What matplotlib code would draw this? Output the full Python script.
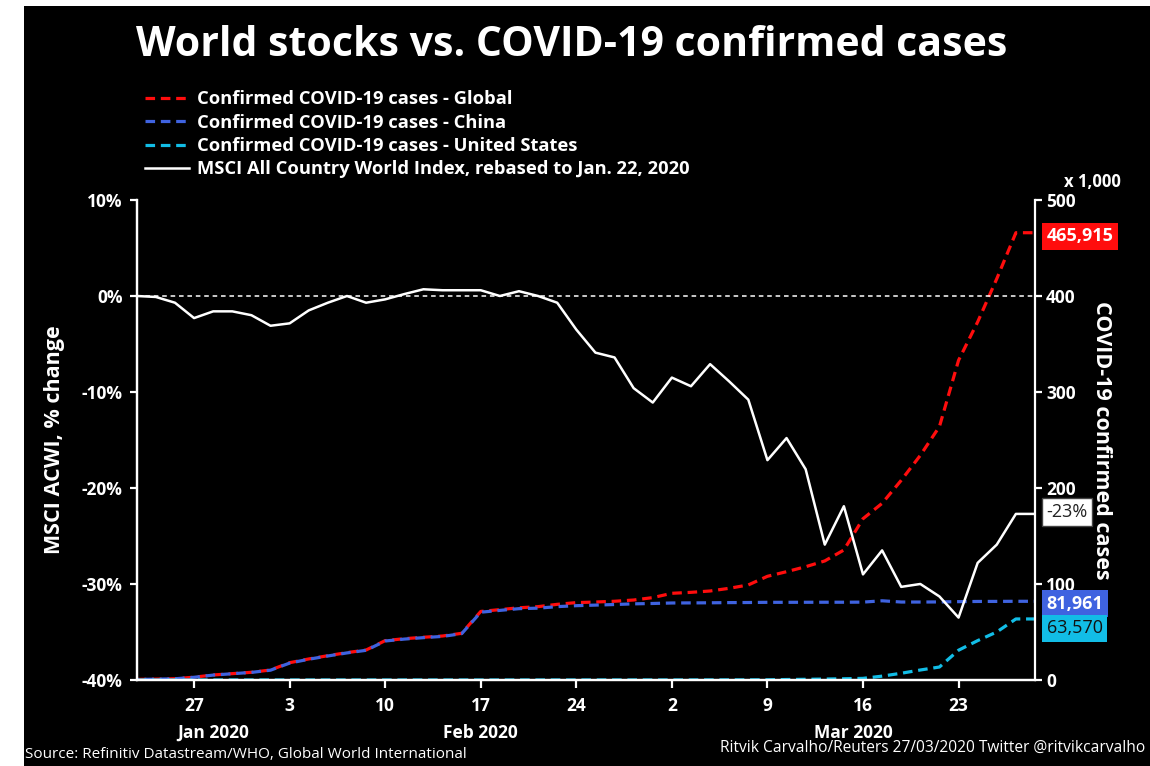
import matplotlib
matplotlib.use("Agg")
import matplotlib.pyplot as plt
import matplotlib.transforms as mtransforms
from matplotlib.lines import Line2D
from matplotlib.patches import Rectangle
import numpy as np
import pandas as pd

plt.rcParams['font.family'] = ['Open Sans', 'DejaVu Sans']

# trading days, Jan 22 - Mar 27 2020
dates = pd.bdate_range("2020-01-22", "2020-03-27")

# MSCI ACWI, % change vs Jan 22
msci = [0, -0.1, -0.7, -2.3, -1.6, -1.6, -2.0, -3.1, -2.85, -1.5, -0.7, 0.0,
        -0.7, -0.35, 0.2, 0.7, 0.6, 0.6, 0.6, 0.0, 0.5, 0.0, -0.7, -3.5,
        -5.9, -6.4, -9.6, -11.1, -8.5, -9.4, -7.1, -8.9, -10.8, -17.1, -14.8, -18.05,
        -25.9, -21.9, -29.0, -26.5, -30.3, -30.0, -31.3, -33.5, -27.8, -25.9, -22.7, -22.7]

# confirmed cases, thousands
cases_global = [0.6, 0.9, 1.3, 2.9, 5.2, 6.6, 8.0, 10.4, 18.0, 21.9, 25.3, 28.5,
                31.2, 41.0, 43.0, 44.5, 45.8, 48.6, 71.4, 73.3, 75.2, 76.4, 78.8, 80.6,
                81.2, 82.0, 83.3, 85.8, 90.3, 91.3, 92.7, 95.5, 99.0, 108.0, 112.8, 118.0,
                124.0, 135.4, 168.0, 184.0, 208.0, 234.0, 264.0, 333.0, 373.0, 418.0, 465.915, 465.915]
cases_china = [0.55, 0.85, 1.25, 2.8, 5.1, 6.5, 7.9, 10.2, 17.6, 21.6, 25.0, 28.2,
               30.9, 40.6, 42.6, 44.1, 45.4, 48.2, 70.6, 72.5, 74.3, 74.8, 76.4, 77.4,
               78.0, 78.6, 79.3, 79.7, 80.2, 80.3, 80.4, 80.6, 80.7, 80.9, 80.9, 80.95,
               81.0, 81.0, 81.1, 82.5, 81.2, 81.2, 81.3, 81.6, 81.8, 81.85, 81.961, 81.961]
cases_us = [0.001, 0.001, 0.002, 0.005, 0.005, 0.005, 0.005, 0.006, 0.011, 0.011, 0.011, 0.012,
            0.012, 0.012, 0.013, 0.013, 0.014, 0.014, 0.015, 0.015, 0.015, 0.035, 0.035, 0.035,
            0.053, 0.057, 0.059, 0.060, 0.062, 0.064, 0.108, 0.129, 0.148, 0.213, 0.472, 0.696,
            0.987, 1.264, 1.678, 4.0, 7.0, 10.4, 13.5, 31.0, 41.0, 50.0, 63.57, 63.57]

RED = '#ff0d0d'
BLUE = '#3f63e0'
CYAN = '#12bde6'

x = np.arange(len(dates))

fig = plt.figure(figsize=(11.5, 7.66), dpi=100)
fig.patch.set_facecolor('white')
fig.patches.append(Rectangle((24 / 1150, 0), 1, 1 - 6 / 766, transform=fig.transFigure,
                             facecolor='black', edgecolor='none', zorder=-10))

ax = fig.add_axes([0.1189, 0.1123, 0.7811, 0.6266])
ax2 = ax.twinx()
ax.set_zorder(ax2.get_zorder() + 1)
ax.patch.set_visible(False)
ax2.patch.set_facecolor('black')

# covid lines on the right axis
ax2.plot(x, cases_global, color=RED, lw=2.3, dashes=(3, 1.8))
ax2.plot(x, cases_china, color=BLUE, lw=2.3, linestyle=(2.4, (3, 1.8)))
ax2.plot(x, cases_us, color=CYAN, lw=2.3, dashes=(3, 1.8))

# MSCI on the left axis
ax.axhline(0, color='white', lw=1.1, linestyle=(0, (3, 2.5)))
ax.plot(x, msci, color='white', lw=1.8)

ax.set_xlim(0, 47)
ax.set_ylim(-40, 10)
ax2.set_ylim(0, 500)

# spines
for a in (ax, ax2):
    for s in a.spines.values():
        s.set_color('white')
        s.set_linewidth(1.6)
    a.spines['top'].set_visible(False)
ax.spines['right'].set_visible(False)

yt = [10, 0, -10, -20, -30, -40]
ax.set_yticks(yt)
ax.set_yticklabels([f"{t}%" for t in yt], fontweight='bold', fontsize=12.5, color='white')
ax.tick_params(axis='y', colors='white', length=5, width=1.6, pad=5)

rt = [0, 100, 200, 300, 400, 500]
ax2.set_yticks(rt)
ax2.set_yticklabels([str(t) for t in rt], fontweight='bold', fontsize=12.5, color='white')
ax2.tick_params(axis='y', colors='white', length=5, width=1.6, pad=3)

mondays = [i for i, d in enumerate(dates) if d.weekday() == 0]
ax.set_xticks(mondays)
ax.set_xticklabels([str(dates[i].day) for i in mondays], fontweight='bold', fontsize=12.5,
                   color='white')
ax.tick_params(axis='x', colors='white', length=6, width=1.6, pad=6)

# month labels under the axis
month_pos = {'Jan 2020': 4.0, 'Feb 2020': 18.0, 'Mar 2020': 37.5}
trans = mtransforms.blended_transform_factory(ax.transData, fig.transFigure)
for lab, xp in month_pos.items():
    fig.text(xp, 1 - 733 / 766, lab, transform=trans, ha='center', va='center',
             color='white', fontweight='bold', fontsize=12.5)

ax.set_ylabel('MSCI ACWI, % change', color='white', fontweight='bold', fontsize=15.5,
              labelpad=12)
ax2.set_ylabel('COVID-19 confirmed cases', color='white', fontweight='bold', fontsize=15.5,
               rotation=270, labelpad=26)
fig.text(1092 / 1150, 1 - 182 / 766, 'x 1,000', color='white', fontweight='bold',
         fontsize=12, ha='center', va='center')

# end-value labels
rtrans = mtransforms.blended_transform_factory(ax2.transAxes, ax2.transData)
ltrans = mtransforms.blended_transform_factory(ax.transAxes, ax.transData)
box = 'square,pad=0.25'
ax2.text(1.013, cases_global[-1] - 3.5, f"{cases_global[-1] * 1000:,.0f}", transform=rtrans,
         color='white', fontweight='bold', fontsize=13, va='center', ha='left',
         bbox=dict(boxstyle=box, facecolor=RED, edgecolor='none'), clip_on=False)
ax.text(1.013, msci[-1] + 0.2, f"{msci[-1]:.0f}%", transform=ltrans,
        color='#222222', fontsize=13, va='center', ha='left',
        bbox=dict(boxstyle=box, facecolor='white', edgecolor='#444444', lw=1), clip_on=False)
ax2.text(1.013, cases_china[-1] - 2.5, f"{cases_china[-1] * 1000:,.0f}", transform=rtrans,
         color='white', fontweight='bold', fontsize=13, va='center', ha='left',
         bbox=dict(boxstyle=box, facecolor=BLUE, edgecolor='none'), clip_on=False)
ax2.text(1.013, cases_us[-1] - 9.5, f"{cases_us[-1] * 1000:,.0f}", transform=rtrans,
         color='#111111', fontsize=13, va='center', ha='left',
         bbox=dict(boxstyle=box, facecolor=CYAN, edgecolor='none'), clip_on=False)

# legend
handles = [
    Line2D([], [], color=RED, lw=2.3, dashes=(3, 1.8)),
    Line2D([], [], color=BLUE, lw=2.3, dashes=(3, 1.8)),
    Line2D([], [], color=CYAN, lw=2.3, dashes=(3, 1.8)),
    Line2D([], [], color='white', lw=1.8),
]
labels = ['Confirmed COVID-19 cases - Global', 'Confirmed COVID-19 cases - China',
          'Confirmed COVID-19 cases - United States',
          'MSCI All Country World Index, rebased to Jan. 22, 2020']
leg = fig.legend(handles, labels, loc='upper left', bbox_to_anchor=(145 / 1150, 1 - 90 / 766),
                 frameon=False, handlelength=2.4, handletextpad=0.45, labelspacing=0.3,
                 prop={'weight': 'bold', 'size': 13.2}, borderaxespad=0, borderpad=0)
for t in leg.get_texts():
    t.set_color('white')

fig.text(572 / 1150, 1 - 45 / 766, 'World stocks vs. COVID-19 confirmed cases', color='white',
         fontweight='bold', fontsize=29.5, ha='center', va='center')
fig.text(25 / 1150, 1 - 755 / 766, 'Source: Refinitiv Datastream/WHO, Global World International',
         color='white', fontsize=11, ha='left', va='center')
fig.text(1145 / 1150, 1 - 748 / 766, 'Ritvik Carvalho/Reuters 27/03/2020 Twitter @ritvikcarvalho',
         color='white', fontsize=11.2, ha='right', va='center')

fig.savefig('out.png', dpi=100, facecolor=fig.get_facecolor())
